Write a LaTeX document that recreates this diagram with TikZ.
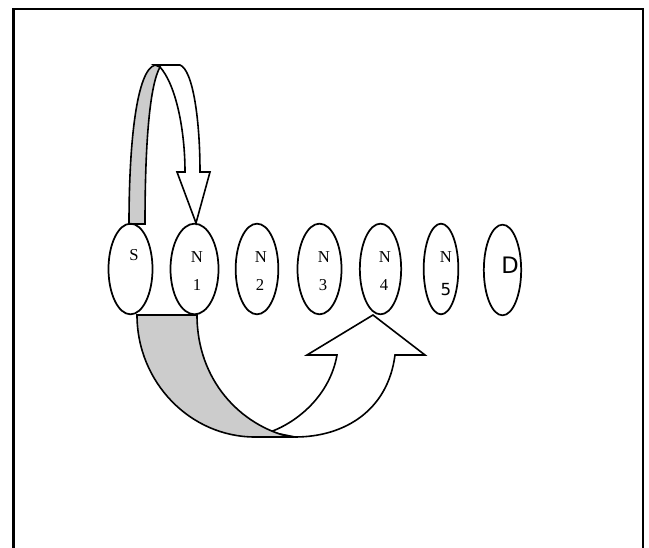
\documentclass[tikz,border=0pt]{standalone}
\usepackage{fontspec}
\setmainfont{Liberation Serif}
\newfontfamily\labelsans{DejaVu Sans}
\usetikzlibrary{shapes.geometric}
\definecolor{bandgray}{RGB}{204,204,204}

\begin{document}
\begin{tikzpicture}[x=0.75pt, y=-0.75pt,
    hop/.style={ellipse, draw, line width=1.3pt, inner sep=0pt, minimum height=68pt},
    band/.style={draw, line width=1.2pt},
    lab/.style={inner sep=0pt, font=\fontsize{12.5}{14}\selectfont}]
    \useasboundingbox (0,0) rectangle (649,548);
    \draw[line width=1.8pt] (13.5,548) -- (13.5,9) -- (643,9) -- (643,548);
    % Short hop: front half first, then the shaded back.
        \draw[band, fill=white] (160,67) .. controls (176,85) and (185,130) .. (185,172)
            -- (177,172) -- (196,223) -- (210,172) -- (200,172)
            .. controls (200,120) and (193,70) .. (180,65) -- (155,65) -- cycle;
        \draw[band, fill=bandgray] (129,224) -- (145,224)
            .. controls (145,140) and (150,85) .. (160,67) -- (155,65)
            .. controls (137,70) and (129,140) .. (129,224) -- cycle;
    % Long hop under the row.
        \draw[band, fill=white] (270,432) .. controls (298,422) and (330,395) .. (337,355)
            -- (307,355) -- (373,315) -- (425,355) -- (395,355)
            .. controls (388,410) and (345,437) .. (295,437) -- cycle;
        \draw[band, fill=bandgray] (137,315) -- (197,315)
            .. controls (197,380) and (240,425) .. (290,437) -- (255,437)
            .. controls (190,437) and (137,382) .. (137,315) -- cycle;
    % The row of nodes.
        \node[hop, minimum width=33pt] (s) at (130.5,269) {};
        \node[hop, minimum width=36pt] (n1) at (194.5,269) {};
        \node[hop, minimum width=32pt] (n2) at (257,269) {};
        \node[hop, minimum width=33pt] (n3) at (319.5,269) {};
        \node[hop, minimum width=31pt] (n4) at (380.5,269) {};
        \node[hop, minimum width=26pt] (n5) at (441,269) {};
        \node[hop, minimum width=28pt] (d) at (502.5,270) {};
    % Below nodes are the labels.
        \node[lab] (ls) at (134,255) {S};
        \node[lab] (ln1) at (197,257) {N};
        \node[lab] (ln1b) at (197,285) {1};
        \node[lab] (ln2) at (261,257) {N};
        \node[lab] (ln2b) at (260,285) {2};
        \node[lab] (ln3) at (324,257) {N};
        \node[lab] (ln3b) at (323,285) {3};
        \node[lab] (ln4) at (385,257) {N};
        \node[lab] (ln4b) at (384,285) {4};
        \node[lab] (ln5) at (446,257) {N};
        \node[inner sep=0pt, font=\labelsans\fontsize{12.5}{14}\selectfont] (ln5b) at (446,290) {5};
        \node[inner sep=0pt, font=\labelsans\fontsize{17}{19}\selectfont] (ld) at (510,265) {D};
\end{tikzpicture}
\end{document}
